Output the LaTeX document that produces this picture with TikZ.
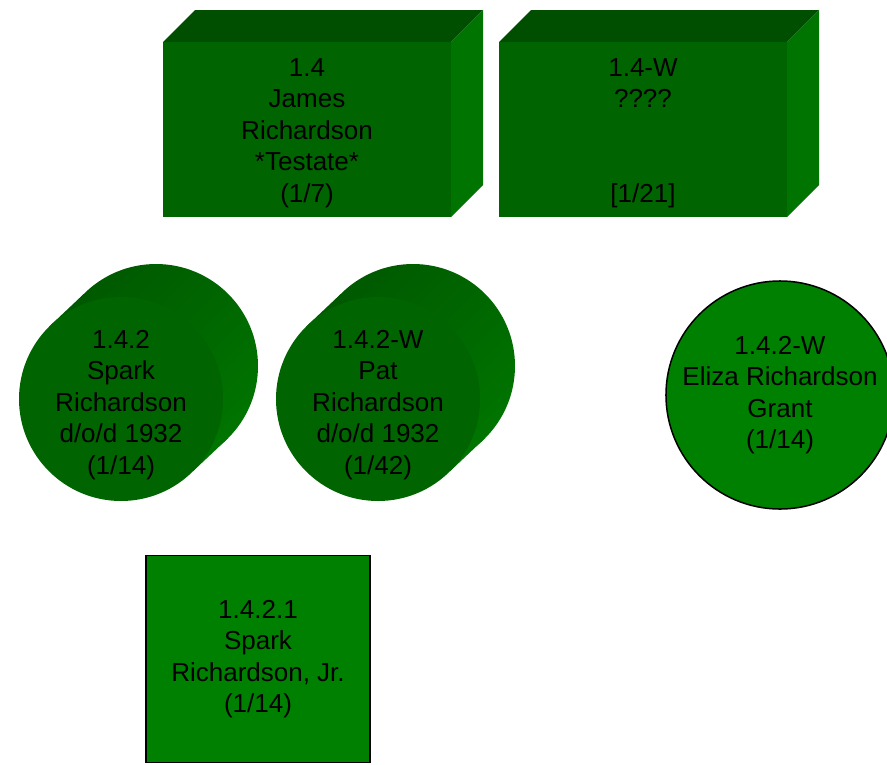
\documentclass[tikz,border=0pt]{standalone}
\usepackage{fontspec}
\setmainfont{Liberation Sans}
\usetikzlibrary{calc}

\definecolor{faceGreen}{RGB}{0,100,0}
\definecolor{topGreen}{RGB}{0,78,0}
\definecolor{sideGreen}{RGB}{0,116,0}
\definecolor{plainGreen}{RGB}{0,128,0}

\begin{document}
\begin{tikzpicture}[x=1pt,y=-1pt,
    txt/.style={align=center, inner sep=0pt, text=black,
        font=\fontsize{26}{31.5}\selectfont},
    outlined/.style={draw=black, line width=1.5pt, fill=plainGreen}]
    \useasboundingbox (0,0) rectangle (887,764);

    % Draw Box 1.4
    \fill[topGreen] (163,42) -- (195,10) -- (483,10) -- (451,42) -- cycle;
    \fill[sideGreen] (451,42) -- (483,10) -- (483,185) -- (451,217) -- cycle;
    \fill[faceGreen] (163,42) rectangle (451,217);

    % Draw Box 1.4-W
    \fill[topGreen] (499,42) -- (531,10) -- (819,10) -- (787,42) -- cycle;
    \fill[sideGreen] (787,42) -- (819,10) -- (819,185) -- (787,217) -- cycle;
    \fill[faceGreen] (499,42) rectangle (787,217);

    % Draw Stacked Circles
    \coordinate (c1f) at (121,399);
    \coordinate (c1b) at (156,366);
    \coordinate (c2f) at (378,399);
    \coordinate (c2b) at (413,366);
    \foreach \f/\b in {c1f/c1b, c2f/c2b} {
        \shade[top color=topGreen!70!sideGreen, bottom color=sideGreen, shading angle=45]
            (\b) circle (102);
        \shade[top color=topGreen!70!sideGreen, bottom color=sideGreen, shading angle=45]
            ($(\f)+(225:102)$) -- ($(\b)+(225:102)$) --
            ($(\b)+(45:102)$) -- ($(\f)+(45:102)$) -- cycle;
        \fill[faceGreen] (\f) circle (102);
    }

    % Box Labels
    \node[txt] (james) at (307,133) {1.4\\James\\Richardson\\*Testate*\\(1/7)};
    \node[txt] (jamesW) at (643,133) {1.4-W\\????\\\mbox{}\\\mbox{}\\{[1/21]}};

    % Circle Labels
    \node[txt] (spark) at (121,405) {1.4.2\\Spark\\Richardson\\d/o/d 1932\\(1/14)};
    \node[txt] (pat) at (378,405) {1.4.2-W\\Pat\\Richardson\\d/o/d 1932\\(1/42)};

    % -- single circle and square
    \node[txt, outlined, circle, minimum size=222pt] (eliza) at (780,395)
        {1.4.2-W\\Eliza Richardson\\Grant\\(1/14)};
    \node[txt, outlined, minimum width=224pt, minimum height=207pt] (sparkjr) at (258,659)
        {1.4.2.1\\Spark\\Richardson, Jr.\\(1/14)};
\end{tikzpicture}
\end{document}
